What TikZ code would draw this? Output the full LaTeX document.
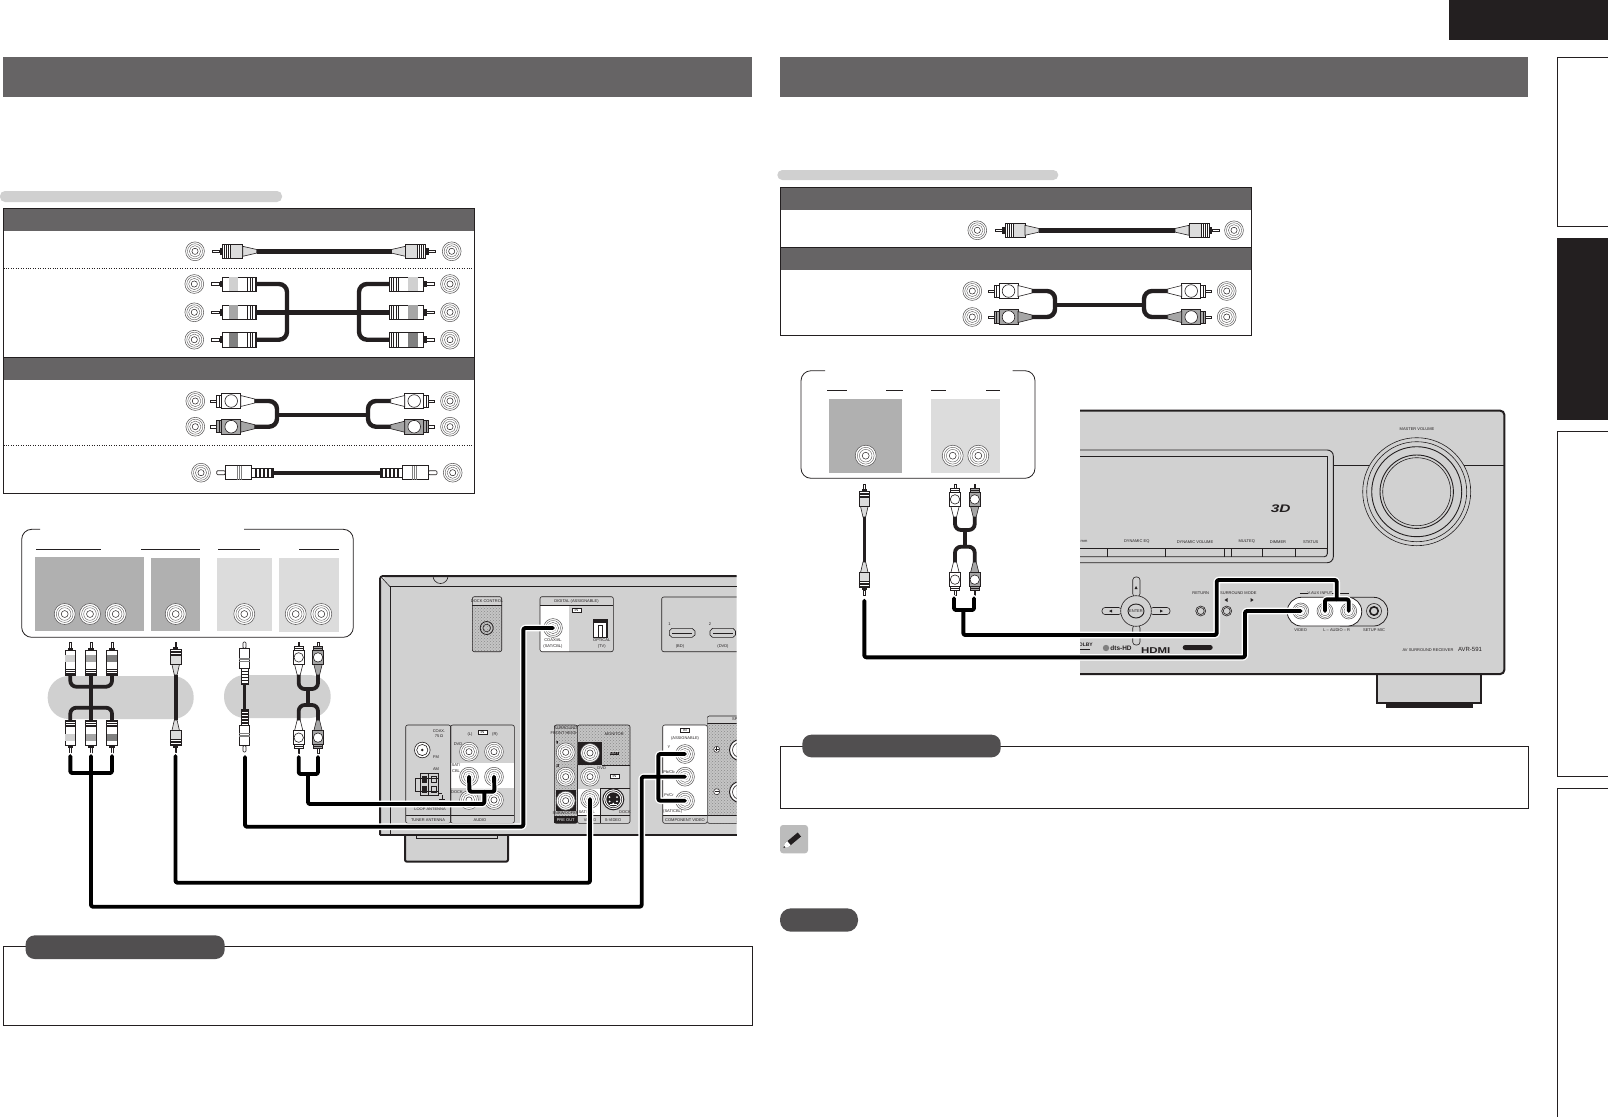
\documentclass[tikz,border=0pt]{standalone}
\usepackage{fontspec}
\setmainfont{Liberation Sans}
\usetikzlibrary{patterns}
\definecolor{hdr}{HTML}{666465}
\definecolor{pilld}{HTML}{514F50}
\definecolor{blk}{HTML}{231F20}
\definecolor{pilll}{HTML}{D0D0D0}
\definecolor{dev}{HTML}{D1D1D1}
\definecolor{pand}{HTML}{B0B0B0}
\definecolor{panl}{HTML}{DCDCDC}
\definecolor{specbg}{HTML}{C4C4C4}
\definecolor{specdot}{HTML}{8A8A8A}
\definecolor{midg}{HTML}{A6A6A6}
\definecolor{darkg}{HTML}{808080}
\definecolor{ringc}{HTML}{5A5859}
\newcounter{labc}
\tikzset{
  thinl/.style={draw=blk,line width=0.45pt},
  panel/.style={draw=blk,line width=0.6pt},
  devline/.style={draw=blk,line width=2pt},
  cable/.style={draw=black,line width=3.9pt,line cap=round,line join=round,rounded corners=2pt},
  halo/.style={draw=white,line width=6.6pt,line cap=round,line join=round,rounded corners=2pt},
  tcable/.style={draw=blk,line width=4.4pt,rounded corners=#1},
  tcable/.default=8pt,
  speck/.style={fill=specbg,postaction={pattern=crosshatch dots,pattern color=specdot}},
  tinytxt/.style={inner sep=0pt,font=\fontsize{4}{4.4}\selectfont,text=blk,align=center},
  inbox/.style={draw=blk,fill=white,line width=0.5pt,inner sep=0.6pt,font=\fontsize{3.6}{4}\selectfont,minimum width=9pt},
  rule/.style={draw=blk,line width=0.8pt},
  dotsep/.style={draw=blk,line width=0.45pt,dotted},
}
% text label with an automatic name
\newcommand{\lab}[4][]{\stepcounter{labc}\node[tinytxt,#1] (t\thelabc) at (#2,#3) {#4};}
% concentric jack
\newcommand{\jackat}[4]{\coordinate (#1) at (#2,#3);
  \filldraw[draw=ringc,line width=0.55pt,fill=white] (#1) circle (#4);
  \foreach \q in {0.8,0.6}{\draw[draw=ringc,line width=0.4pt] (#1) circle ({#4*\q});}
  \draw[draw=blk,line width=0.5pt] (#1) circle ({#4*0.33});}
% name, x, y, angle, scale, fill : grey moulded plug
\newcommand{\rcaplug}[6]{\begin{scope}[shift={(#2,#3)},rotate=#4,scale=#5]
  \filldraw[thinl,fill=white] (0,-1.2) rectangle (7,1.2);
  \fill[blk] (7,-3.6) rectangle (10,3.6);
  \filldraw[panel,fill=white] (10,-7.3) rectangle (18,7.3);
  \foreach \q in {12,14,16}{\draw[thinl] (\q,-7.3)--(\q,7.3);}
  \filldraw[panel,fill=#6] (18,-7.3) rectangle (30,7.3);
  \filldraw[panel,fill=#6] (30,-5) -- (44,-1.8) -- (44,1.8) -- (30,5) -- cycle;
  \coordinate (#1) at (44,0);
\end{scope}}
% name, x, y, angle, scale, band colour : long white plug
\newcommand{\triplug}[6]{\begin{scope}[shift={(#2,#3)},rotate=#4,scale=#5]
  \filldraw[thinl,fill=white] (0,-1.4) rectangle (8,1.4);
  \fill[blk] (8,-3.4) rectangle (11,3.4);
  \filldraw[panel,fill=white] (11,-7.2) rectangle (45,7.2);
  \fill[#6] (17,-6.9) rectangle (26.5,6.9);
  \foreach \q in {36,38.5,41,43.5}{\draw[thinl] (\q,-7.2)--(\q,7.2);}
  \coordinate (#1) at (45,0);
\end{scope}}
% name, x, y, angle, scale, fill : square plug with round window
\newcommand{\sqplug}[6]{\begin{scope}[shift={(#2,#3)},rotate=#4,scale=#5]
  \filldraw[thinl,fill=white] (0,-1.2) rectangle (6,1.2);
  \filldraw[panel,fill=#6] (6,-6) rectangle (11,6);
  \draw[panel] (8.5,-6)--(8.5,6);
  \filldraw[panel,fill=#6] (11,-7.6) rectangle (30,7.6);
  \filldraw[panel,fill=white] (20.5,0) circle (6.3);
  \filldraw[panel,fill=#6] (30,-5.5) -- (44,-2) -- (44,2) -- (30,5.5) -- cycle;
  \coordinate (#1) at (44,0);
\end{scope}}
% name, x, y, angle, scale : long ribbed plug
\newcommand{\miniplug}[5]{\begin{scope}[shift={(#2,#3)},rotate=#4,scale=#5]
  \filldraw[panel,fill=white,rounded corners=1pt] (0,-2) rectangle (8.5,2);
  \filldraw[panel,fill=white] (8.5,-7) rectangle (35,7);
  \foreach \q in {21,23,25}{\draw[thinl,draw=darkg] (\q,-7)--(\q,7);}
  \filldraw[panel,fill=white] (35,-4.5) rectangle (57,4.5);
  \foreach \q in {38,42,46,50,54}{\fill[blk] (\q,-4.5) rectangle ++(1.8,9);}
  \coordinate (#1) at (57,0);
\end{scope}}
\begin{document}
\begin{tikzpicture}[x=1pt,y=-1pt]
\useasboundingbox[fill=white] (0,0) rectangle (1608,1117);
%% ---------- page furniture ----------
\fill[blk] (1449,0) rectangle (1608,40);
\fill[hdr] (3,57) rectangle (752,96.5);
\fill[hdr] (780,57) rectangle (1528,96.5);
\draw[draw=blk,line width=1pt] (1608,57.5) -- (1557.5,57.5) -- (1557.5,226) -- (1608,226);
\fill[blk] (1557,238) rectangle (1608,420);
\draw[draw=blk,line width=1pt] (1608,431.5) -- (1557.5,431.5) -- (1557.5,776) -- (1608,776);
\draw[draw=blk,line width=1pt] (1608,788.5) -- (1557.5,788.5) -- (1557.5,1117);
%% ---------- left table ----------
\fill[pilll,rounded corners=5pt] (0,191) rectangle (282,202);
\fill[hdr] (3.5,208) rectangle (474,231);
\fill[hdr] (3.5,357) rectangle (474,380);
\draw[rule] (3.5,208.3) rectangle (474,493);
\draw[rule] (3.5,357) -- (474,357);
\draw[dotsep] (3.5,268) -- (474,268);
\draw[dotsep] (3.5,445.7) -- (474,445.7);
% row 1
\jackat{ja1}{195}{251.3}{9.4}\jackat{ja2}{451.7}{251.3}{9.4}
\rcaplug{pa1}{212.7}{251.3}{0}{1}{panl}
\rcaplug{pa2}{435.5}{251.3}{180}{1}{panl}
\draw[tcable] (pa1) -- (pa2);
% row 2
\jackat{jb1}{194.3}{284}{9.4}\jackat{jb2}{194.3}{312.3}{9.4}\jackat{jb3}{194.3}{339.7}{9.4}
\jackat{jb4}{450}{284}{9.4}\jackat{jb5}{450}{312.3}{9.4}\jackat{jb6}{450}{339.7}{9.4}
\triplug{pb1}{211.7}{284}{0}{1}{pilll}
\triplug{pb2}{211.7}{312.3}{0}{1}{midg}
\triplug{pb3}{211.7}{339.7}{0}{1}{darkg}
\triplug{pb4}{434.7}{284}{180}{1}{pilll}
\triplug{pb5}{434.7}{312.3}{180}{1}{midg}
\triplug{pb6}{434.7}{339.7}{180}{1}{darkg}
\coordinate (bl) at (287,284);\coordinate (bl2) at (287,339.7);
\coordinate (br) at (359,284);\coordinate (br2) at (359,339.7);
\draw[tcable] (pb1) -- (bl) -- (bl2) -- (pb3);
\draw[tcable] (pb4) -- (br) -- (br2) -- (pb6);
\draw[tcable] (pb2) -- (pb5);
% row 3
\jackat{jc1}{195.3}{401}{9.4}\jackat{jc2}{195.3}{426.7}{9.4}
\jackat{jc3}{450}{401}{9.4}\jackat{jc4}{450}{426.7}{9.4}
\sqplug{pc1}{210.7}{401}{0}{1}{white}
\sqplug{pc2}{210.7}{426.7}{0}{1}{midg}
\sqplug{pc3}{434.7}{401}{180}{1}{white}
\sqplug{pc4}{434.7}{426.7}{180}{1}{midg}
\coordinate (cl1) at (277,401);\coordinate (cl2) at (277,426.7);
\coordinate (cr1) at (368,401);\coordinate (cr2) at (368,426.7);
\coordinate (cm1) at (277,415);\coordinate (cm2) at (368,415);
\draw[tcable=8pt] (pc1) -- (cl1) -- (cl2) -- (pc2);
\draw[tcable=8pt] (pc3) -- (cr1) -- (cr2) -- (pc4);
\draw[tcable=0pt] (cm1) -- (cm2);
% row 4
\jackat{jd1}{201}{472.7}{9.4}\jackat{jd2}{452.7}{472.7}{9.4}
\miniplug{pd1}{216.7}{472.7}{0}{1}
\miniplug{pd2}{437}{472.7}{180}{1}
\draw[tcable] (pd1) -- (pd2);
%% ---------- left source box ----------
\draw[draw=blk,line width=0.8pt,rounded corners=10pt] (40,529.3) -- (21.7,529.3) -- (21.7,637.3) -- (353.3,637.3) -- (353.3,529.3) -- (244,529.3);
\draw[rule] (36,549.3) -- (100.7,549.3);
\draw[rule] (141,549.3) -- (200,549.3);
\draw[rule] (218,549.3) -- (260,549.3);
\draw[rule] (299,549.3) -- (339,549.3);
\fill[pand] (35,557) rectangle (144,631);
\fill[pand] (151,558) rectangle (200,631);
\fill[panl] (217,558) rectangle (272,631);
\fill[panl] (279,558) rectangle (339,632);
\jackat{s1}{64.7}{614}{10.5}\jackat{s2}{90}{614}{10.5}\jackat{s3}{115.7}{614}{10.5}
\jackat{s4}{175.7}{614}{10.5}\jackat{s5}{244.3}{614}{10.5}
\jackat{s6}{295.7}{614}{10.5}\jackat{s7}{321.3}{614}{10.5}
\fill[pilll,rounded corners=21pt] (47.7,676) rectangle (193.7,719);
\fill[pilll,rounded corners=21pt] (224,675) rectangle (330.7,718);
% triple component cable
\triplug{u1}{70.3}{642}{-90}{0.75}{pilll}
\triplug{u2}{91}{642}{-90}{0.75}{midg}
\triplug{u3}{112}{642}{-90}{0.75}{darkg}
\triplug{d1}{70.3}{753.7}{90}{0.75}{pilll}
\triplug{d2}{91}{753.7}{90}{0.75}{midg}
\triplug{d3}{112}{753.7}{90}{0.75}{darkg}
\coordinate (ua) at (70.3,686.7);\coordinate (ub) at (112,686.7);
\coordinate (da) at (70.3,707.7);\coordinate (db) at (112,707.7);
\draw[tcable=6pt,line width=3.8pt] (u1) -- (ua) -- (ub) -- (u3);
\draw[tcable=6pt,line width=3.8pt] (d1) -- (da) -- (db) -- (d3);
\draw[tcable=0pt,line width=3.8pt] (u2) -- (d2);
% video cable
\rcaplug{v1}{175.7}{642}{-90}{0.75}{panl}
\rcaplug{v2}{175.7}{753}{90}{0.75}{panl}
\draw[tcable=0pt,line width=3.6pt] (v1) -- (v2);
% mini cable
\miniplug{m1}{244.5}{642}{-90}{0.75}
\miniplug{m2}{244.5}{752}{90}{0.75}
\draw[tcable=0pt,line width=3.6pt] (m1) -- (m2);
% audio pair
\sqplug{q1}{298.7}{642}{-90}{0.75}{white}
\sqplug{q2}{318}{642}{-90}{0.75}{midg}
\sqplug{q3}{298.7}{753}{90}{0.75}{white}
\sqplug{q4}{318}{753}{90}{0.75}{midg}
\coordinate (qa) at (298.7,689);\coordinate (qb) at (318,689);
\coordinate (qc) at (298.7,705);\coordinate (qd) at (318,705);
\coordinate (qm1) at (307.7,689);\coordinate (qm2) at (307.7,705);
\draw[tcable=6pt,line width=3.8pt] (q1) -- (qa) -- (qb) -- (q2);
\draw[tcable=6pt,line width=3.8pt] (q3) -- (qc) -- (qd) -- (q4);
\draw[tcable=0pt,line width=3.8pt] (qm1) -- (qm2);
%% ---------- rear panel ----------
\fill[dev,rounded corners=3pt] (405,835) rectangle (508,861.7);
\draw[devline,rounded corners=2pt] (405,836) -- (405,861.7) -- (508,861.7) -- (508,836);
\draw[panel] (416,835) -- (416,838.5) -- (497,838.5) -- (497,835);
\fill[dev] (736.7,576) -- (386,576) -- (380,582) -- (380,835) -- (736.7,835) -- cycle;
\draw[devline,rounded corners=3pt] (736.7,576) -- (380,576) -- (380,835);
\draw[devline] (380,835) -- (736.7,835);
\draw[panel] (736.7,586.7) -- (390,586.7) -- (390,835);
\draw[panel] (382,578) -- (390,586.7);
\draw[panel] (433,576) arc[start angle=180,end angle=0,radius=7.5];
% dock control
\path[speck,rounded corners=2pt] (472.3,596.7) rectangle (501.7,651.7);
\fill[dev] (472.3,597) rectangle (501.7,605);
\draw[panel,rounded corners=2pt] (472.3,596.7) rectangle (501.7,651.7);
\draw[panel] (472.3,605) -- (501.7,605);
\lab{487}{601}{DOCK CONTROL}
\coordinate (dk) at (486.7,628);
\draw[panel,line width=0.8pt] (dk) circle (6.5);\draw[panel] (dk) circle (3.8);
% digital
\fill[white] (540,605) rectangle (569,651.7);
\draw[panel,rounded corners=2pt] (540,596.7) rectangle (613.3,651.7);
\draw[panel] (540,605) -- (613.3,605);
\lab{576.5}{601}{DIGITAL (ASSIGNABLE)}
\node[inbox] (inbox1) at (576.5,610) {IN};
\jackat{rc}{553}{628}{9.4}
\lab{553}{640}{COAXIAL}\lab{553}{646}{(SAT/CBL)}
\filldraw[draw=blk,fill=white,line width=1.1pt] (593.3,619.5) rectangle (607,637.5);
\fill[blk] (593.3,619.5) rectangle (607,623);
\draw[panel] (598.5,625) rectangle (602,637.5);
\lab{601.7}{640.5}{OPTICAL}\lab{601.7}{646}{(TV)}
% HDMI
\draw[panel,rounded corners=2pt] (736.7,597) -- (661.7,597) -- (661.7,651.7) -- (736.7,651.7);
\draw[panel] (672,628.3) -- (692,628.3) -- (695,631) -- (695,635) -- (692,637.3) -- (672,637.3) -- (669.3,635) -- (669.3,631) -- cycle;
\draw[panel] (712.5,628.3) -- (733,628.3) -- (735.5,631) -- (735.5,635) -- (733,637.3) -- (712.5,637.3) -- (710,635) -- (710,631) -- cycle;
\fill[blk] (672,632.5) rectangle (692,634);\fill[blk] (712.5,632.5) rectangle (733,634);
\lab{669.5}{624}{1}\lab{710}{624}{2}\lab{680}{646}{(BD)}\lab{723}{646}{(DVD)}
% tuner
\draw[panel,rounded corners=2pt] (405.7,823.3) -- (405.7,725) -- (450.7,725) -- (450.7,823.3) -- cycle;
\draw[panel] (405.7,815) -- (450.7,815);
\lab{439}{731}{COAX.}\lab{439}{736.5}{75\,Ω}\lab{436}{756.7}{FM}\lab{436}{769.3}{AM}
\lab{430}{809}{LOOP ANTENNA}\lab{428}{820}{TUNER ANTENNA}
\coordinate (fm) at (422.3,750);
\filldraw[panel,fill=white] (fm) circle (7.8);\draw[panel] (fm) circle (5.6);\fill[blk] (fm) circle (1.4);
\draw[panel,line width=0.9pt] (415,778) rectangle (438,791.7);
\draw[panel] (420,773.3) rectangle (438,795);
\draw[panel] (428.5,773.3) -- (428.5,795);
\fill[blk] (421.5,776) rectangle (427,783);\fill[blk] (421.5,786) rectangle (427,793);
\draw[panel] (431,776) rectangle (436.5,782);\draw[panel] (431,786) rectangle (436.5,792);
\draw[panel] (438,793) -- (442,793);\draw[panel] (442,795) -- (442,799);\draw[panel] (439,799) -- (445,799);
% audio
\fill[white] (450.7,762.7) rectangle (514.3,788.3);
\draw[panel,rounded corners=2pt] (450.7,725) rectangle (514.3,823.3);
\draw[panel] (450.7,815) -- (514.3,815);
\lab{480}{820}{AUDIO}
\lab{470}{734}{(L)}\lab{495}{734}{(R)}
\node[inbox] (inbox2) at (482.3,732.3) {IN};
\lab{458}{744}{DVD}\lab{456}{765}{SAT/}\lab{456}{770.7}{CBL}\lab{457}{791.7}{DOCK}
\jackat{a1}{469}{751.7}{9.4}\jackat{a2}{494}{751.7}{9.4}
\jackat{a3}{469}{776.7}{9.4}\jackat{a4}{494}{776.7}{9.4}
\jackat{a5}{469}{800}{9.4}\jackat{a6}{494}{800}{9.4}
% pre out
\path[speck] (554.3,725) rectangle (577.3,823.3);
\fill[blk] (555.7,790) rectangle (575.7,810.7);
\fill[blk] (554.3,816) rectangle (577.3,823.3);
\draw[panel,rounded corners=2pt] (554.3,725) rectangle (577.3,823.3);
\lab{565.7}{728.3}{SURROUND}\lab{565.7}{733.3}{FRONT HEIGHT}
\lab[fill=blk,text=white]{557.3}{742.7}{L}\lab[fill=blk,text=white]{557.3}{765.7}{R}
\lab{565.7}{812.7}{SUBWOOFER}\lab[text=white]{565.7}{820}{PRE OUT}
\jackat{po1}{565.7}{752.3}{9.4}\jackat{po2}{565.7}{776.7}{9.4}\jackat{po3}{565.7}{800.7}{9.4}
% video block
\path[speck] (577.3,725) rectangle (630,765);
\fill[blk] (578,741.7) rectangle (601.7,765);
\fill[white] (578,789) rectangle (600.7,815);
\draw[panel,rounded corners=2pt] (577.3,725) rectangle (630,823.3);
\draw[panel] (601.7,765) -- (630,765);
\draw[panel] (600.7,788) -- (630,788);
\draw[panel] (600.7,788) -- (600.7,823.3);
\draw[panel] (577.3,815) -- (630,815);
\lab{614.3}{734}{MONITOR}\lab[fill=blk,text=white]{614.3}{753.3}{OUT}\lab{601.7}{768.3}{DVD}
\node[inbox] (inbox3) at (614.3,776) {IN};
\lab{586.7}{811.7}{SAT/CBL}\lab{590}{820}{VIDEO}\lab{613}{820}{S-VIDEO}\lab{625}{811.7}{DOCK}
\jackat{vo}{590}{753}{9.4}\jackat{vd}{590}{776.7}{9.4}\jackat{vs}{590}{799}{9.4}
\coordinate (sv) at (613.3,799.3);
\filldraw[panel,fill=white,line width=1pt] (sv) circle (10.5);
\draw[panel] (sv) circle (8.5);
\fill[blk] (sv) circle (7);
\foreach \a in {30,90,150,210,330}{\fill[white] (sv) ++(\a:4.3) circle (1);}
\fill[white] (610,803.5) rectangle (616.6,805);
% component
\fill[white] (662.7,725) rectangle (707.3,815);
\draw[panel,rounded corners=2pt] (662.7,725) rectangle (707.3,823.3);
\draw[panel] (662.7,815) -- (707.3,815);
\node[inbox] (inbox4) at (685,730) {IN};
\lab{685}{738.3}{(ASSIGNABLE)}\lab{669}{747.3}{Y}\lab{669}{771.7}{Pb/Cb}\lab{669}{795}{Pr/Cr}
\lab{672.7}{811.7}{(SAT/CBL)}\lab{685}{820}{COMPONENT VIDEO}
\jackat{cy}{685}{754}{9.4}\jackat{cb}{685}{776.7}{9.4}\jackat{cr}{685}{800.7}{9.4}
% speakers
\begin{scope}
\clip (707.3,700) rectangle (736.7,835);
\path[speck] (707.3,723) rectangle (737,823.3);
\fill[dev] (707.3,816) rectangle (737,823.3);
\fill[dev] (707.3,716) rectangle (737,723);
\draw[panel,rounded corners=2pt] (707.3,716) rectangle (745,823.3);
\draw[panel] (707.3,723) -- (745,723);
\draw[panel] (707.3,815) -- (745,815);
\lab[anchor=west]{732}{719.5}{SPEAKERS}
\coordinate (sk1) at (740,750);\coordinate (sk2) at (740,792);
\filldraw[panel,fill=white,line width=1pt] (sk1) circle (10.5);\draw[panel] (sk1) circle (7.5);
\filldraw[panel,fill=white,line width=1pt] (sk2) circle (10.5);\draw[panel] (sk2) circle (7.5);
\end{scope}
\coordinate (sgp) at (716.7,749.3);\coordinate (sgm) at (716.7,791.7);
\filldraw[draw=blk,fill=white,line width=0.5pt] (sgp) circle (3);\filldraw[draw=blk,fill=white,line width=0.5pt] (sgm) circle (3);
\draw[draw=blk,line width=1pt] (714.7,749.3) -- (718.7,749.3) (716.7,747.3) -- (716.7,751.3);
\draw[draw=blk,line width=1pt] (714.7,791.7) -- (718.7,791.7);
%% ---------- left cables to rear panel ----------
\coordinate (e1) at (91,756);\coordinate (e2) at (70.3,756);\coordinate (e3) at (112,756);
\coordinate (b1) at (91,773);\coordinate (b2) at (70.3,773);\coordinate (b3) at (112,773);
\coordinate (f1) at (175.5,756);\coordinate (g1) at (245,757);
\coordinate (h1) at (298.7,757);\coordinate (h2) at (318,757);
\coordinate (hb1) at (298.7,774);\coordinate (hb2) at (318,774);\coordinate (hm) at (308,774);
\coordinate (r1) at (91,906.7);\coordinate (r2) at (641.7,906.7);\coordinate (r3) at (641.7,776.7);
\coordinate (w1) at (175.5,882.7);\coordinate (w2) at (590,882.7);
\coordinate (x1) at (245,826.7);\coordinate (x2) at (523.3,826.7);\coordinate (x3) at (523.3,628);
\coordinate (y1) at (308,804);\coordinate (y2) at (484.3,804);\coordinate (y3) at (484.3,791.7);
\coordinate (y4) at (469.5,791.7);\coordinate (y5) at (494.5,791.7);
\coordinate (z1) at (658.3,754);\coordinate (z2) at (658.3,800.7);
\foreach \st in {halo,cable}{
  \draw[\st] (e2) -- (b2) -- (b3) -- (e3);
  \draw[\st] (e1) -- (r1) -- (r2) -- (r3) -- (cb);
  \draw[\st] (f1) -- (w1) -- (w2) -- (vs);
  \draw[\st] (g1) -- (x1) -- (x2) -- (x3) -- (rc);
  \draw[\st] (h1) -- (hb1) -- (hb2) -- (h2);
  \draw[\st] (hm) -- (y1) -- (y2) -- (y3);
  \draw[\st] (a3) -- (y4) -- (y5) -- (a4);
  \draw[\st] (cy) -- (z1) -- (z2) -- (cr);
}
%% ---------- left note ----------
\draw[rule] (3,946.7) rectangle (752,1025.6);
\fill[pilld,rounded corners=9pt] (25.6,935.4) rectangle (224.6,959);
%% ---------- right table ----------
\fill[pilll,rounded corners=5pt] (777.3,170) rectangle (1058.3,180);
\fill[hdr] (780.7,187.7) rectangle (1251.7,210);
\fill[hdr] (780.7,247.3) rectangle (1251.7,270);
\draw[rule] (780.7,187.7) rectangle (1251.7,335.3);
\draw[rule] (780.7,247.3) -- (1251.7,247.3);
\jackat{ra1}{977.3}{230.3}{9.4}\jackat{ra2}{1234}{230.3}{9.4}
\rcaplug{rp1}{995}{230.3}{0}{1}{panl}
\rcaplug{rp2}{1219}{230.3}{180}{1}{panl}
\draw[tcable] (rp1) -- (rp2);
\jackat{rb1}{972.3}{291}{9.4}\jackat{rb2}{972.3}{317}{9.4}
\jackat{rb3}{1226.7}{291}{9.4}\jackat{rb4}{1226.7}{317}{9.4}
\sqplug{rq1}{988}{291}{0}{1}{white}
\sqplug{rq2}{988}{317}{0}{1}{midg}
\sqplug{rq3}{1211.7}{291}{180}{1}{white}
\sqplug{rq4}{1211.7}{317}{180}{1}{midg}
\coordinate (rl1) at (1055,291);\coordinate (rl2) at (1055,317);
\coordinate (rr1) at (1144,291);\coordinate (rr2) at (1144,317);
\coordinate (rm1) at (1055,305);\coordinate (rm2) at (1144,305);
\draw[tcable=8pt] (rq1) -- (rl1) -- (rl2) -- (rq2);
\draw[tcable=8pt] (rq3) -- (rr1) -- (rr2) -- (rq4);
\draw[tcable=0pt] (rm1) -- (rm2);
%% ---------- right source box ----------
\draw[draw=blk,line width=0.8pt,rounded corners=10pt] (825,370.7) -- (801,370.7) -- (801,478.3) -- (1035,478.3) -- (1035,370.7) -- (1012.7,370.7);
\draw[rule] (827,390) -- (847,390);\draw[rule] (886,390) -- (903,390);
\draw[rule] (931,390) -- (946,390);\draw[rule] (986,390) -- (1000,390);
\fill[pand] (829,399) rectangle (901.7,472.7);
\fill[panl] (931,399) rectangle (1000,472.7);
\jackat{n1}{865.7}{455.7}{10.5}\jackat{n2}{952.7}{455.7}{10.5}\jackat{n3}{978.3}{455.7}{10.5}
\rcaplug{nv1}{864.3}{484}{-90}{0.75}{panl}
\rcaplug{nv2}{864.3}{595}{90}{0.75}{panl}
\draw[tcable=0pt,line width=3.6pt] (nv1) -- (nv2);
\sqplug{na1}{955}{484}{-90}{0.75}{white}
\sqplug{na2}{974.7}{484}{-90}{0.75}{midg}
\sqplug{na3}{955}{595}{90}{0.75}{white}
\sqplug{na4}{974.7}{595}{90}{0.75}{midg}
\coordinate (naa) at (955,530);\coordinate (nab) at (974.7,530);
\coordinate (nac) at (955,546.7);\coordinate (nad) at (974.7,546.7);
\coordinate (nm1) at (964.7,530);\coordinate (nm2) at (964.7,546.7);
\draw[tcable=6pt,line width=3.8pt] (na1) -- (naa) -- (nab) -- (na2);
\draw[tcable=6pt,line width=3.8pt] (na3) -- (nac) -- (nad) -- (na4);
\draw[tcable=0pt,line width=3.8pt] (nm1) -- (nm2);
%% ---------- front panel ----------
% foot
\fill[dev] (1377.3,674) rectangle (1480.7,703.3);
\draw[devline] (1377.3,675) -- (1377.3,703.3) -- (1480.7,703.3) -- (1480.7,675);
\fill[blk] (1386,703) rectangle (1472.7,708);
\fill[dev,rounded corners=4pt] (1080,410.7) -- (1504.3,410.7) -- (1504.3,674) -- (1080,674) -- cycle;
\fill[dev] (1080,410.7) rectangle (1100,674);
\draw[devline,rounded corners=4pt] (1080,410.7) -- (1504.3,410.7) -- (1504.3,674) -- (1080,674);
% display
\draw[panel,line width=0.9pt,rounded corners=6pt] (1080,450) -- (1333.3,450) -- (1333.3,562.7) -- (1080,562.7);
\draw[panel,line width=0.9pt] (1080,456) -- (1327.3,456) -- (1327.3,548) ;
\draw[panel,line width=0.9pt] (1080,548) -- (1327.3,548);
\draw[panel,line width=0.9pt,rounded corners=3pt] (1080,556.7) -- (1327.3,556.7) -- (1327.3,548);
\foreach \q in {1107.3,1165.7,1224.3,1231.7,1262.7,1295}{\draw[panel,line width=0.9pt] (\q,548) -- (\q,556.7);}
\lab{1084}{541.7}{mm}
\lab{1136.7}{541.7}{DYNAMIC EQ}\lab{1195}{541.7}{DYNAMIC VOLUME}
\lab{1246.7}{541.7}{MULTEQ}\lab{1278}{541.7}{DIMMER}\lab{1310.7}{541.7}{STATUS}
\node[inner sep=0pt,text=blk,font=\bfseries\itshape\fontsize{11}{11}\selectfont\addfontfeature{FakeStretch=1.4}] (logo3d) at (1280.7,508.7) {3D};
% knob
\draw[panel] (1333.3,465.7) -- (1504,465.7);
\coordinate (kn) at (1416.7,491.7);
\filldraw[panel,fill=dev] (kn) circle (54);
\draw[panel] (kn) circle (50);
\draw[panel,line width=0.9pt] (kn) circle (45);
\draw[panel,line width=0.9pt] (kn) circle (36.7);
\draw[panel] (kn) circle (34);
\lab{1417}{428.7}{MASTER VOLUME}
% nav
\foreach \xa/\ya/\xb/\yb in {1132.7/577/1140/596.7,1132.7/625/1140/645,1102/607.5/1121.7/614.5,1150/607.5/1170/614.5}{
  \filldraw[panel,fill=dev,rounded corners=3pt] (\xa,\ya) rectangle (\xb,\yb);}
\coordinate (nv) at (1136,611);
\filldraw[panel,fill=dev] (nv) circle (15.3);
\filldraw[panel,fill=dev,line width=0.9pt] (nv) ellipse (8 and 7);
\lab{1136}{611}{ENTER}
\fill[blk] (1134.5,589) -- (1137.5,589) -- (1136,586) -- cycle;
\fill[blk] (1112,609.5) -- (1112,612.5) -- (1109,611) -- cycle;
\fill[blk] (1160,609.5) -- (1160,612.5) -- (1163,611) -- cycle;
\lab{1200.7}{593.3}{RETURN}\lab{1238.3}{593.3}{SURROUND MODE}
\coordinate (rk) at (1200.7,611);\coordinate (sk) at (1226.7,611);
\filldraw[panel,fill=dev] (rk) circle (5);\draw[panel] (rk) circle (3.5);
\filldraw[panel,fill=dev] (sk) circle (5);\draw[panel] (sk) circle (3.5);
\fill[blk] (1227.5,598) -- (1227.5,602) -- (1224.5,600) -- cycle;
\fill[blk] (1250.5,598) -- (1250.5,602) -- (1253.5,600) -- cycle;
% v aux
\draw[panel,line width=0.8pt,rounded corners=14pt] (1340,597.3) -- (1387.7,597.3) -- (1387.7,626) -- (1340,626);
\filldraw[panel,line width=0.8pt,fill=white,rounded corners=14pt] (1287.3,597.3) rectangle (1361.7,626);
\lab[fill=dev,inner xsep=1pt]{1320}{593.3}{V.AUX INPUT}
\draw[panel] (1300,593.3) -- (1308,593.3);\draw[panel] (1332,593.3) -- (1349,593.3);
\jackat{fv}{1300.7}{611}{8}\jackat{fl}{1325}{611}{8}\jackat{fr}{1348.7}{611}{8}
\coordinate (mic) at (1374,611);
\filldraw[panel,fill=dev] (mic) circle (7.5);\draw[draw=blk,line width=1.6pt] (mic) circle (4.2);
\lab{1300.7}{630}{VIDEO}\lab{1336.7}{630}{L – AUDIO – R}\lab{1374}{630}{SETUP MIC}
% logos
\begin{scope}\clip (1080,640) rectangle (1200,660);
\lab[font=\bfseries\fontsize{5}{5}\selectfont]{1084}{645}{DOLBY}
\draw[panel] (1080,649.5) -- (1090,649.5);
\end{scope}
\coordinate (dtsc) at (1106,648);
\fill[darkg] (dtsc) circle (3.2);
\lab[font=\bfseries\fontsize{6.5}{7}\selectfont]{1121}{648}{dts-HD}
\lab[font=\bfseries\fontsize{8.5}{9}\selectfont\addfontfeature{FakeStretch=1.35}]{1155.7}{650.5}{HDMI}
\fill[blk,rounded corners=2.5pt] (1182.7,645) rectangle (1212.7,650);
\lab{1428}{650}{AV SURROUND RECEIVER}
\lab[font=\fontsize{6}{6}\selectfont]{1470}{649.6}{AVR-591}
%% ---------- right cables ----------
\coordinate (k1) at (954,598.3);\coordinate (k2) at (974,598.3);
\coordinate (k3) at (954,610);\coordinate (k4) at (974,610);
\coordinate (k5) at (963.3,610);\coordinate (k6) at (963.3,635);
\coordinate (k7) at (1216.7,635);\coordinate (k8) at (1216.7,580);
\coordinate (k9) at (1336.7,580);\coordinate (k10) at (1336.7,599.3);
\coordinate (k11) at (1325,599.3);\coordinate (k12) at (1348.7,599.3);
\coordinate (l1) at (864.3,600.7);\coordinate (l2) at (864.3,657.3);
\coordinate (l3) at (1245,657.3);\coordinate (l4) at (1245,611);
\foreach \st in {halo,cable}{
  \draw[\st] (k1) -- (k3) -- (k4) -- (k2);
  \draw[\st] (k5) -- (k6) -- (k7) -- (k8) -- (k9) -- (k10);
  \draw[\st] (fl) -- (k11) -- (k12) -- (fr);
  \draw[\st] (l1) -- (l2) -- (l3) -- (l4) -- (fv);
}
%% ---------- right note ----------
\draw[rule] (780.7,746) rectangle (1528,808.3);
\fill[pilld,rounded corners=9pt] (802.3,734.7) rectangle (1000.7,757.3);
\fill[midg!75,rounded corners=3pt] (780,825) rectangle (808,853.3);
\begin{scope}[shift={(794,839)},rotate=40]
\fill[blk] (-9,-2.6) rectangle (7,2.6);
\fill[white] (-9,-2.6) rectangle (-6.5,2.6);
\fill[white] (-14,0) -- (-9,-2.6) -- (-9,2.6) -- cycle;
\fill[blk] (-14,0) -- (-12,-1) -- (-12,1) -- cycle;
\end{scope}
\fill[pilld,rounded corners=11pt] (780,908.3) rectangle (858,931.7);
\end{tikzpicture}
\end{document}
